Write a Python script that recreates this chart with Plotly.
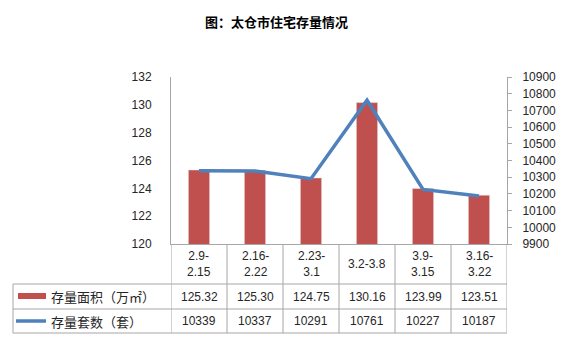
import plotly.graph_objects as go

categories = ["2.9-<br>2.15", "2.16-<br>2.22", "2.23-<br>3.1", "3.2-3.8", "3.9-<br>3.15", "3.16-<br>3.22"]
area_values = [125.32, 125.30, 124.75, 130.16, 123.99, 123.51]
unit_values = [10339, 10337, 10291, 10761, 10227, 10187]
area_labels = ["125.32", "125.30", "124.75", "130.16", "123.99", "123.51"]
unit_labels = ["10339", "10337", "10291", "10761", "10227", "10187"]
series_names = ["存量面积（万㎡）", "存量套数（套）"]
title_text = "图：太仓市住宅存量情况"

W, H = 576, 344
L, R, T, B = 171, 507, 77, 244
BAR_C = "#C0504D"
LINE_C = "#4F81BD"
GRID_C = "#A6A6A6"
TXT = "#262626"
FONT = "Liberation Sans"
CJK = "Noto Sans CJK SC"

def py(p):
    return (B - p) / (B - T)

def px(p):
    return (p - L) / (R - L)

xs = list(range(len(categories)))

fig = go.Figure()
fig.add_trace(go.Bar(x=xs, y=area_values, marker_color=BAR_C, width=0.38, yaxis="y", showlegend=False))
fig.add_trace(go.Scatter(x=xs, y=unit_values, mode="lines", line=dict(color=LINE_C, width=3.5), yaxis="y2", showlegend=False))

shapes = []
row_y = [B, 284, 309, 333]
for i in range(len(categories) + 1):
    shapes.append(dict(type="line", xref="x", yref="paper", x0=i - 0.5, x1=i - 0.5,
                       y0=py(B), y1=py(row_y[-1]), line=dict(color=GRID_C, width=1)))
shapes.append(dict(type="line", xref="paper", yref="paper", x0=px(13), x1=px(13),
                   y0=py(row_y[1]), y1=py(row_y[-1]), line=dict(color=GRID_C, width=1)))
for yy in row_y[1:]:
    shapes.append(dict(type="line", xref="paper", yref="paper", x0=px(13), x1=1,
                       y0=py(yy), y1=py(yy), line=dict(color=GRID_C, width=1)))
shapes.append(dict(type="rect", xref="paper", yref="paper", x0=px(18), x1=px(46),
                   y0=py(299), y1=py(293), fillcolor=BAR_C, line=dict(width=0)))
shapes.append(dict(type="line", xref="paper", yref="paper", x0=px(16), x1=px(46),
                   y0=py(321), y1=py(321), line=dict(color=LINE_C, width=3.5)))

def A(text, x, y, xref="paper", xanchor="center", font=None):
    return dict(text=text, x=x, y=y, xref=xref, yref="paper", xanchor=xanchor, yanchor="middle",
                showarrow=False, font=font or dict(family=FONT, size=12, color=TXT))

ann = []
ann.append(A(title_text, px(276), py(22), font=dict(family=CJK, size=13, color="#000000", weight="bold")))
for i, c in enumerate(categories):
    ann.append(A(c, i, py((row_y[0] + row_y[1]) / 2), xref="x"))
    ann.append(A(area_labels[i], i, py((row_y[1] + row_y[2]) / 2), xref="x"))
    ann.append(A(unit_labels[i], i, py((row_y[2] + row_y[3]) / 2), xref="x"))
for k, name in enumerate(series_names):
    ann.append(A(name, px(49), py((row_y[1 + k] + row_y[2 + k]) / 2), xanchor="left",
                 font=dict(family=CJK, size=13, color=TXT)))

fig.update_layout(
    width=W, height=H,
    margin=dict(l=L, r=W - R, t=T, b=H - B, pad=0),
    paper_bgcolor="white", plot_bgcolor="white",
    xaxis=dict(range=[-0.5, len(categories) - 0.5], showticklabels=False, showgrid=False, zeroline=False,
               showline=True, linecolor=GRID_C, linewidth=1, ticks=""),
    yaxis=dict(range=[120, 132], dtick=2, showgrid=False, zeroline=False, showline=True, linecolor=GRID_C,
               linewidth=1, ticks="", ticklabelstandoff=16,
               tickfont=dict(family=FONT, size=12, color=TXT)),
    yaxis2=dict(range=[9900, 10900], dtick=100, tickformat="d", overlaying="y", side="right", showgrid=False,
                zeroline=False, showline=True, linecolor=GRID_C, linewidth=1, ticks="outside", ticklen=4,
                tickcolor=GRID_C, ticklabelstandoff=8, tickfont=dict(family=FONT, size=12, color=TXT)),
    shapes=shapes,
    annotations=ann,
)

fig.write_html("out.html")
